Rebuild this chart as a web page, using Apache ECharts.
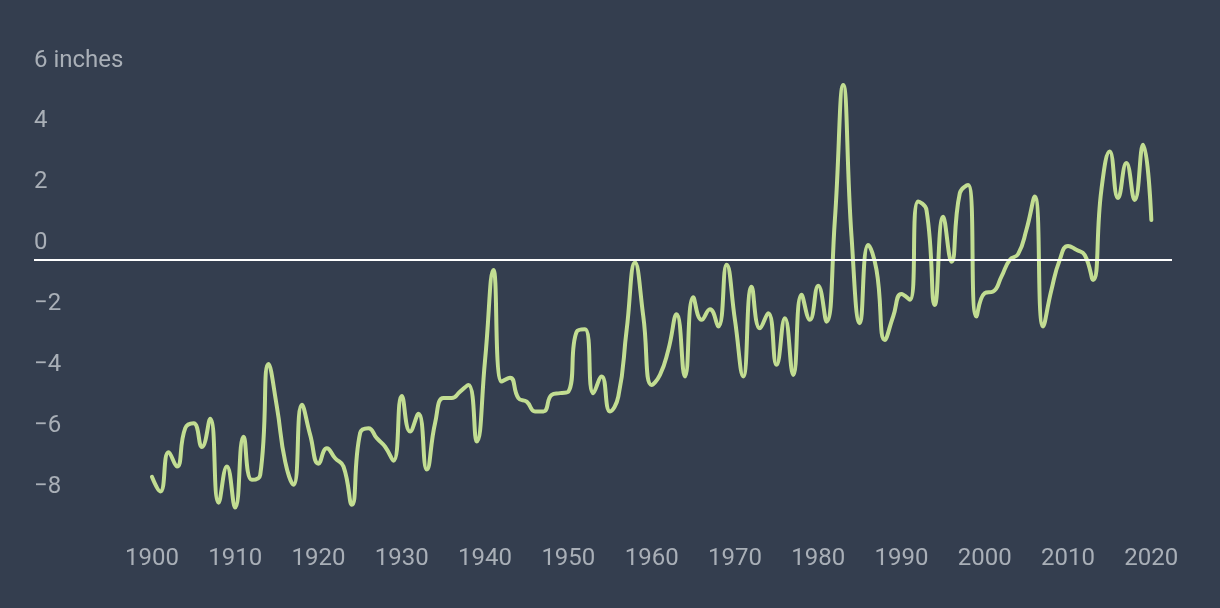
<!DOCTYPE html>
<html>
<head>
<meta charset="utf-8">
<script src="https://cdn.jsdelivr.net/npm/echarts@6/dist/echarts.min.js"></script>
<style>
html,body{margin:0;padding:0;background:#343e4f;}
#chart{width:1220px;height:608px;}
</style>
</head>
<body>
<div id="chart"></div>
<script>
// Years of the series
var years = [];
for (var yr = 1900; yr <= 2020; yr++) years.push(yr);

// Values (inches), one per year 1900–2020
var values = [
  -7.14, -7.62, -6.33, -6.80, -5.54, -5.38, -6.16, -5.23, -7.99, -6.80,
  -8.15, -5.82, -7.24, -7.08, -3.43, -4.83, -6.64, -7.40, -4.77, -5.76,
  -6.71, -6.20, -6.53, -6.80, -8.06, -5.70, -5.54, -5.87, -6.15, -6.61,
  -4.48, -5.65, -5.07, -6.90, -5.37, -4.55, -4.55, -4.34, -4.12, -5.98,
  -3.30, -0.34, -4.01, -3.88, -4.55, -4.67, -4.99, -4.99, -4.45, -4.39,
  -4.34, -2.37, -2.29, -4.39, -3.84, -4.99, -4.50, -2.31, -0.10, -1.87,
  -4.12, -3.79, -2.97, -1.80, -3.84, -1.24, -1.98, -1.63, -2.20, -0.17,
  -1.98, -3.84, -0.89, -2.26, -1.76, -3.46, -1.93, -3.79, -1.16, -1.98,
  -0.86, -2.04, 1.30, 5.74, 0.76, -2.09, 0.48, -0.34, -2.64, -1.87,
  -1.13, -1.32, 1.91, 1.63, -1.49, 1.41, -0.07, 2.18, 2.45, -1.87,
  -1.10, -1.05, -0.56, -0.01, 0.18, 0.98, 2.07, -2.20, -1.00, -0.01,
  0.45, 0.32, 0.15, -0.67, 2.29, 3.55, 2.02, 3.17, 1.96, 3.77,
  1.30
];

// Tick labels
var xTickYears = [1900, 1910, 1920, 1930, 1940, 1950, 1960, 1970, 1980, 1990, 2000, 2010, 2020];
var yTickValues = [-8, -6, -4, -2, 0, 2, 4, 6];
var yTopLabel = '6 inches';

var data = years.map(function (y, i) { return [y, values[i]]; });

var chart = echarts.init(document.getElementById('chart'), null, {renderer: 'canvas'});
var labelColor = '#a9afb7';
var font = 'Roboto';

chart.setOption({
  backgroundColor: '#343e4f',
  animation: false,
  grid: {left: 34, right: 48, top: 77, bottom: 105, containLabel: false},
  xAxis: {
    type: 'value',
    min: 1885.84,
    max: 2022.48,
    axisLine: {show: false},
    axisTick: {show: false},
    splitLine: {show: false},
    axisLabel: {
      customValues: xTickYears,
      color: labelColor,
      fontFamily: font,
      fontSize: 24,
      margin: 44,
      formatter: function (v) { return String(v); }
    }
  },
  yAxis: {
    type: 'value',
    min: -8,
    max: 6,
    interval: 2,
    axisLine: {show: false},
    axisTick: {show: false},
    splitLine: {show: false},
    axisLabel: {
      inside: true,
      margin: 0,
      align: 'left',
      verticalAlign: 'bottom',
      lineHeight: 33,
      color: labelColor,
      fontFamily: font,
      fontSize: 24,
      showMinLabel: true,
      showMaxLabel: true,
      formatter: function (v) {
        if (v === yTickValues[yTickValues.length - 1]) return yTopLabel;
        return v < 0 ? '\u2212' + Math.abs(v) : String(v);
      }
    }
  },
  series: [{
    type: 'line',
    data: data,
    smooth: 0.5,
    showSymbol: false,
    symbol: 'none',
    clip: false,
    lineStyle: {color: '#c2dd92', width: 4, cap: 'round', join: 'round'},
    markLine: {
      silent: true,
      symbol: 'none',
      label: {show: false},
      lineStyle: {color: '#ffffff', width: 2, type: 'solid'},
      data: [{yAxis: 0}]
    },
    z: 3
  }]
});
</script>
</body>
</html>
